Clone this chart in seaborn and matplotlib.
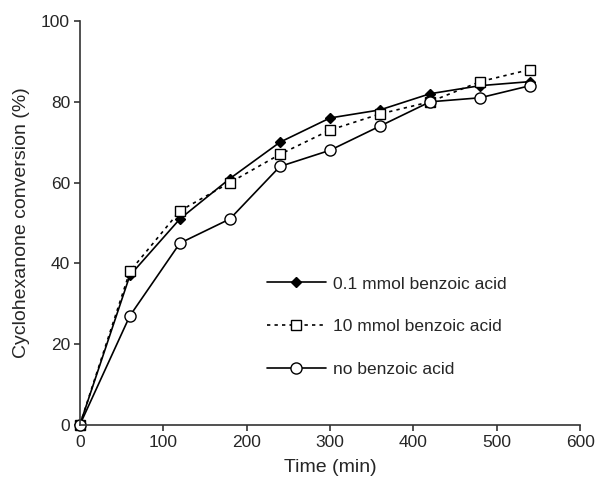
import pandas as pd
import numpy as np
import matplotlib
matplotlib.use('Agg')
import matplotlib.pyplot as plt
import seaborn as sns

# Conversion vs time
time_min = [0, 60, 120, 180, 240, 300, 360, 420, 480, 540]
conv_01mmol = [0, 37, 51, 61, 70, 76, 78, 82, 84, 85]
conv_10mmol = [0, 38, 53, 60, 67, 73, 77, 80, 85, 88]
conv_none = [0, 27, 45, 51, 64, 68, 74, 80, 81, 84]
labels = ['0.1 mmol benzoic acid', '10 mmol benzoic acid', 'no benzoic acid']

df = pd.DataFrame({
    'Time': time_min * 3,
    'Conversion': conv_01mmol + conv_10mmol + conv_none,
    'Series': [labels[0]] * 10 + [labels[1]] * 10 + [labels[2]] * 10,
})

sns.set_style('ticks')
plt.rcParams['font.family'] = ['Liberation Sans', 'DejaVu Sans']

fig = plt.figure(figsize=(6, 4.78), dpi=100)
ax = fig.add_axes([0.133, 0.111, 0.834, 0.845])

styles = {
    labels[0]: dict(ls='-', marker='D', mfc='black', ms=5),
    labels[1]: dict(ls=(0, (2, 2.5)), marker='s', mfc='white', ms=7),
    labels[2]: dict(ls='-', marker='o', mfc='white', ms=8),
}
for lab in labels:
    sub = df[df['Series'] == lab]
    st = styles[lab]
    sns.lineplot(data=sub, x='Time', y='Conversion', ax=ax, color='black',
                 linestyle=st['ls'], marker=st['marker'], markerfacecolor=st['mfc'],
                 markeredgecolor='black', markersize=st['ms'], markeredgewidth=1.0,
                 linewidth=1.2, label=lab, clip_on=False)

ax.set_xlim(0, 600)
ax.set_ylim(0, 100)
ax.set_xticks(range(0, 601, 100))
ax.set_yticks(range(0, 101, 20))
ax.set_xlabel('Time (min)', fontsize=14, labelpad=7)
ax.set_ylabel('Cyclohexanone conversion (%)', fontsize=14, labelpad=8)
ax.tick_params(labelsize=12.5, direction='out', length=4, width=1.2, color='#333333', pad=3)
for side in ['top', 'right']:
    ax.spines[side].set_visible(False)
for side in ['left', 'bottom']:
    ax.spines[side].set_linewidth(1.2)
    ax.spines[side].set_color('#333333')

ax.legend(loc='upper left', bbox_to_anchor=(0.36, 0.385), frameon=False,
          fontsize=12.5, handlelength=3.4, labelspacing=1.6, handletextpad=0.4,
          borderaxespad=0)

fig.savefig('out.png', dpi=100)
